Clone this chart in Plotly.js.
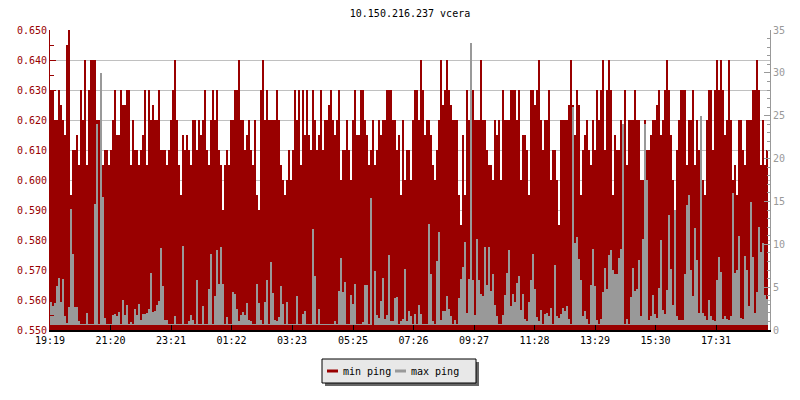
<!DOCTYPE html>
<html>
<head>
<meta charset="utf-8">
<script src="https://cdn.plot.ly/plotly-3.0.1.min.js"></script>
<style>html,body{margin:0;padding:0;background:#fff;}#chart{width:800px;height:400px;}</style>
</head>
<body>
<div id="chart"></div>
<script>
// Title and labels
const chartTitle = "10.150.216.237 vcera";
const seriesNames = ["min ping", "max ping"];

// Time axis: minutes after 19:19, one sample every 4 minutes
const sampleStart = 0;      // minutes
const sampleStep = 4;       // minutes per sample
const tickMinutes = [0, 121, 242, 363, 484, 606, 727, 848, 969, 1090, 1211, 1332];
const tickLabels = ["19:19", "21:20", "23:21", "01:22", "03:23", "05:25", "07:26", "09:27", "11:28", "13:29", "15:30", "17:31"];

// min ping (left axis, ms)
const minPing = [
0.630,0.630,0.620,0.620,0.630,0.625,0.620,0.615,0.645,0.650,
0.595,0.610,0.610,0.615,0.605,0.630,0.620,0.640,0.605,0.630,
0.640,0.640,0.640,0.620,0.620,0.620,0.605,0.610,0.610,0.605,
0.610,0.620,0.630,0.615,0.615,0.630,0.625,0.625,0.630,0.630,
0.605,0.620,0.610,0.610,0.605,0.610,0.615,0.630,0.605,0.630,
0.620,0.625,0.620,0.620,0.630,0.610,0.610,0.610,0.605,0.610,
0.620,0.630,0.640,0.620,0.605,0.595,0.615,0.610,0.615,0.610,
0.605,0.620,0.620,0.610,0.620,0.615,0.620,0.630,0.610,0.605,
0.620,0.630,0.620,0.630,0.610,0.605,0.590,0.605,0.610,0.605,
0.620,0.620,0.630,0.630,0.640,0.620,0.620,0.610,0.615,0.620,
0.610,0.605,0.620,0.595,0.590,0.630,0.640,0.620,0.630,0.620,
0.620,0.620,0.620,0.630,0.620,
0.605,0.600,0.595,0.600,0.610,0.600,0.610,0.630,0.620,0.630,
0.605,0.630,0.615,0.630,0.615,0.610,0.630,0.620,0.610,0.615,
0.630,0.610,0.620,0.620,0.625,0.630,0.620,0.615,0.620,0.630,
0.600,0.610,0.610,0.620,0.610,0.600,0.620,0.630,0.615,0.615,
0.630,0.630,0.620,0.615,0.605,0.610,0.620,0.605,0.610,0.620,
0.615,0.620,0.620,0.630,0.630,0.630,0.620,0.620,0.610,0.615,
0.595,0.620,0.600,0.610,0.610,0.600,0.620,0.630,0.630,0.620,
0.640,0.630,0.615,0.620,0.620,0.615,0.605,0.600,0.610,0.620,
0.640,0.625,0.630,0.640,0.630,0.625,0.620,0.620,0.620,0.595,
0.585,0.615,0.595,0.630,0.620,0.610,0.630,0.620,0.620,0.620,
0.640,0.620,0.620,0.610,0.605,0.605,0.600,0.620,0.615,0.620,
0.600,0.630,0.620,0.620,0.620,0.630,0.630,0.630,0.620,0.630,
0.600,0.615,0.615,0.610,0.595,0.630,0.630,0.625,0.630,0.640,
0.620,0.610,0.620,0.620,0.630,0.600,0.610,0.610,0.600,0.585,
0.620,0.620,
0.620,0.620,0.625,0.640,0.625,0.615,0.630,0.625,0.595,0.610,
0.615,0.620,0.610,0.605,0.620,0.610,0.630,0.620,0.630,0.640,
0.610,0.630,0.640,0.630,0.595,0.615,0.610,0.610,0.620,0.615,
0.630,0.605,0.620,0.620,0.620,0.630,0.620,0.620,0.600,0.600,
0.620,0.610,0.610,0.615,0.620,0.620,0.625,0.630,0.615,0.620,
0.630,0.640,0.630,0.615,0.600,0.585,0.610,0.620,0.630,0.630,
0.630,0.605,0.620,0.620,0.630,0.605,0.620,0.610,0.620,0.600,
0.595,0.620,0.630,0.630,0.610,0.630,0.640,0.630,0.640,0.630,
0.615,0.620,0.640,0.620,0.600,0.605,0.595,0.620,0.620,0.610,
0.605,0.620,0.620,0.620,0.630,0.630,0.640,0.630,0.605,0.620,
0.605,0.610
];

// max ping (right axis, ms)
const maxPing = [
3.3,2.8,3.1,5.1,6.1,3.3,5.9,1.6,0.8,2.7,
14.1,8.9,2.7,2.7,1.0,0.7,0.7,0.7,2.0,0.7,
0.7,0.7,14.7,24,0.7,30,15.5,1.4,0.7,0.7,
0.7,1.8,1.9,1.6,2.1,0.7,3.5,1.8,2.9,0.7,
0.9,0.7,2.4,1.8,3.0,1.2,1.9,1.9,2.0,2.5,
6.7,2.1,2.2,2.9,3.4,9.6,5.1,1.2,1.2,0.7,
0.7,0.7,1.6,0.7,0.7,0.7,9.8,0.7,0.7,1.0,
1.8,1.2,0.7,5.8,0.7,0.7,2.8,0.7,0.7,4.8,
8.9,0.7,4.0,9.3,5.4,9.7,5.4,0.7,1.5,0.7,
0.7,4.4,4.2,2.4,1.0,1.8,2.1,1.8,3.1,1.2,
1.0,0.7,0.7,5.4,3.1,1.2,0.7,3.3,5.8,0.7,
7.9,4.3,1.2,1.0,1.5,5.1,3.0,0.7,3.3,0.7,
0.7,0.7,0.7,4.0,0.7,0.7,1.9,2.2,0.7,0.7,
0.7,11.8,6.3,0.7,2.5,0.7,0.7,0.7,0.7,0.7,
0.7,0.7,1.0,0.7,4.5,8.4,4.4,5.6,0.7,0.7,
4.1,3.0,5.4,0.7,0.7,0.7,0.9,5.2,5.2,0.7,
15.4,0.6,6.9,1.7,1.4,3.4,6.1,1.3,1.7,8.8,
1.0,1.1,3.7,3.8,0.7,1.1,1.3,7.1,1.0,2.2,
1.6,0.7,1.9,0.7,2.9,1.9,0.7,0.7,0.7,12.4,
6.5,1.1,0.7,8.1,11.4,1.2,2.2,2.2,4.0,2.4,
1.6,0.7,1.2,0.7,3.7,6.0,7.3,10.3,2.0,6.0,
33.5,5.8,1.8,10.6,5.8,4.2,4.0,9.7,5.3,9.7,
4.5,6.5,2.9,1.6,0.7,0.7,1.7,4.1,6.6,9.3,
2.8,4.2,3.3,5.5,6.3,2.3,4.2,1.3,1.0,3.3,
5.8,8.9,4.8,1.5,1.0,2.3,0.7,1.9,2.0,1.6,
2.6,0.7,7.6,1.6,1.4,1.9,2.6,2.2,2.8,1.3,
0.7,26,10.2,10.9,8.3,5.8,1.6,2.2,1.3,0.7,
5.2,9.5,5.1,1.2,0.7,1.3,4.4,7.2,4.8,8.8,
9.3,7.0,6.5,6.5,8.4,9.5,24,0.7,1.3,0.7,
3.9,7.2,4.6,4.8,8.2,1.6,10.6,24,17.5,1.2,
1.6,4.1,1.9,1.4,4.9,10.5,2.3,1.9,4.7,13.4,
7.1,2.9,14.0,1.6,1.2,1.2,1.2,6.5,14.6,15.8,
7.0,4.0,11.9,8.2,2.0,25,2.0,1.6,1.2,3.5,
1.6,1.2,1.1,5.8,8.5,6.8,1.3,1.6,1.3,1.2,
1.6,16.0,6.6,7.0,11.0,1.4,1.3,8.6,7.0,2.8,
14.9,8.5,2.0,4.4,12.0,9.1,10.2,4.1,3.6
];

// Axis ranges
const leftRange = [0.55, 0.65];
const rightRange = [0, 35];
const timeRange = [0, 1440];
const maxFloor = 0.55; // lower end of the grey max-ping columns

// Styling
const RED = "#990000";
const GREY = "#999999";
const MONO = "DejaVu Sans Mono, monospace";

// Plot-area geometry in pixels (for the hand-drawn legend box)
const PL = 50, PR = 770, PT = 30, PB = 330;
const fx = px => (px - PL) / (PR - PL);
const fy = py => (PB - py) / (PB - PT);

const traces = [
  {
    type: "bar",
    name: seriesNames[0],
    x0: sampleStart + sampleStep / 2, dx: sampleStep,
    y: minPing,
    width: sampleStep,
    marker: {color: RED, line: {width: 0}},
    yaxis: "y",
    hoverinfo: "skip"
  },
  {
    type: "bar",
    name: seriesNames[1],
    x0: sampleStart + sampleStep / 2, dx: sampleStep,
    y: maxPing.map(v => v - maxFloor),
    base: maxFloor,
    width: sampleStep * 0.75,
    marker: {color: GREY, line: {width: 0}},
    yaxis: "y2",
    hoverinfo: "skip"
  }
];

const legBox = {x0: 322, x1: 476, y0: 359, y1: 383};
const shadow = 3;
const legY = 371;

const layout = {
  width: 800, height: 400,
  margin: {l: PL, r: 800 - PR, t: PT, b: 400 - PB, pad: 0},
  paper_bgcolor: "#ffffff",
  plot_bgcolor: "#ffffff",
  showlegend: false,
  barmode: "overlay",
  bargap: 0,
  title: {
    text: chartTitle,
    font: {family: MONO, size: 10, color: "#000000"},
    xref: "paper", x: 0.5, xanchor: "center",
    yref: "container", y: 1 - 13 / 400, yanchor: "middle"
  },
  xaxis: {
    range: timeRange,
    tickmode: "array", tickvals: tickMinutes, ticktext: tickLabels,
    ticks: "inside", ticklen: 5, tickwidth: 1, tickcolor: "#000000",
    showline: true, linecolor: "#000000", linewidth: 2,
    showgrid: false, zeroline: false,
    tickfont: {family: MONO, size: 10, color: "#000000"},
    fixedrange: true
  },
  yaxis: {
    range: leftRange,
    dtick: 0.01, tick0: 0.55, tickformat: ".3f",
    ticks: "inside", ticklen: 6, tickwidth: 1, tickcolor: RED,
    minor: {dtick: 0.005, ticks: "inside", ticklen: 4, tickcolor: RED, showgrid: false},
    showline: true, linecolor: RED, linewidth: 1,
    showgrid: true, gridcolor: "#c0c0c0", gridwidth: 1,
    zeroline: false,
    tickfont: {family: MONO, size: 10, color: RED},
    fixedrange: true
  },
  yaxis2: {
    overlaying: "y", side: "right",
    range: rightRange, dtick: 5, tick0: 0,
    ticks: "inside", ticklen: 6, tickwidth: 1, tickcolor: GREY,
    minor: {dtick: 1, ticks: "inside", ticklen: 3, tickcolor: GREY, showgrid: false},
    showline: true, linecolor: GREY, linewidth: 1,
    showgrid: false, zeroline: false,
    tickfont: {family: MONO, size: 10, color: GREY},
    fixedrange: true
  },
  shapes: [
    {type: "rect", xref: "paper", yref: "paper", layer: "above",
     x0: fx(legBox.x0 + shadow), x1: fx(legBox.x1 + shadow), y0: fy(legBox.y0 + shadow), y1: fy(legBox.y1 + shadow),
     fillcolor: "#666666", line: {width: 0}},
    {type: "rect", xref: "paper", yref: "paper", layer: "above",
     x0: fx(legBox.x0), x1: fx(legBox.x1), y0: fy(legBox.y0), y1: fy(legBox.y1),
     fillcolor: "#e8e8e8", line: {color: "#000000", width: 1}},
    {type: "line", xref: "paper", yref: "paper", layer: "above",
     x0: fx(327), x1: fx(338), y0: fy(legY), y1: fy(legY), line: {color: RED, width: 3}},
    {type: "line", xref: "paper", yref: "paper", layer: "above",
     x0: fx(395), x1: fx(406), y0: fy(legY), y1: fy(legY), line: {color: GREY, width: 3}}
  ],
  annotations: [
    {xref: "paper", yref: "paper", x: fx(341), y: fy(legY), xanchor: "left", yanchor: "middle",
     text: seriesNames[0], showarrow: false, font: {family: MONO, size: 10, color: "#000000"}},
    {xref: "paper", yref: "paper", x: fx(409), y: fy(legY), xanchor: "left", yanchor: "middle",
     text: seriesNames[1], showarrow: false, font: {family: MONO, size: 10, color: "#000000"}}
  ]
};

Plotly.newPlot("chart", traces, layout, {staticPlot: true, displayModeBar: false});
</script>
</body>
</html>
